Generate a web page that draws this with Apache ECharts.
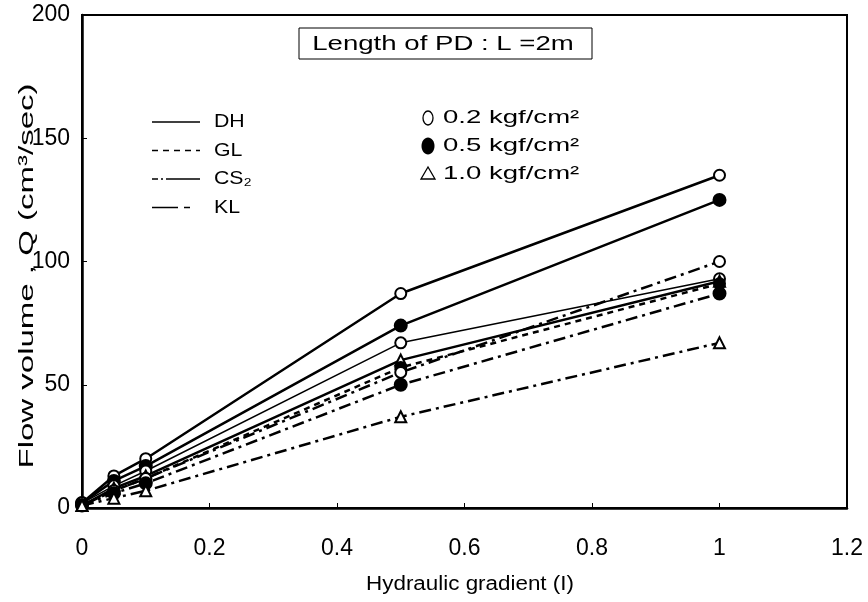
<!DOCTYPE html>
<html>
<head>
<meta charset="utf-8">
<script src="https://cdn.jsdelivr.net/npm/echarts@6/dist/echarts.min.js"></script>
<style>html,body{margin:0;padding:0;background:#fff}#c{width:868px;height:602px}</style>
</head>
<body>
<div id="c"></div>
<script>
// ---- data ----
const gradient = [0, 0.05, 0.1, 0.5, 1.0];
const xTickLabels = {0: '0', 0.2: '0.2', 0.4: '0.4', 0.6: '0.6', 0.8: '0.8', 1: '1', 1.2: '1.2'};
const yTicks = [0, 50, 100, 150, 200];

const DH_02 = [2, 13, 20, 87, 135];
const DH_05 = [2, 11, 17, 74, 125];
const CS2_02 = [2, 9, 15, 67, 93];
const DH_10 = [1, 8, 13, 60, 92];
const GL_05 = [1, 7, 12, 57, 91];
const KL_02 = [1, 7, 12, 55, 100];
const KL_05 = [1, 6, 10, 50, 87];
const KL_10 = [1, 4, 7, 37, 67];

const materialNames = ['DH', 'GL', 'CS\u2082', 'KL'];
const pressureNames = ['0.2 kgf/cm\u00b2', '0.5 kgf/cm\u00b2', '1.0 kgf/cm\u00b2'];
const titleText = 'Length of PD : L =2m';
const xAxisName = 'Hydraulic gradient (I)';
const yAxisName = 'Flow volume , Q (cm\u00b3/sec)';

// ---- styles ----
const SOLID = 'solid';
const DASH = [6, 5];
const DASHDOT = [12, 5, 3, 5];
const CSDASH = [6, 3, 2, 3, 30, 0];
const KLDASH = [26, 6, 6, 10];

function pairs(vals) { return gradient.map((g, i) => [g, vals[i]]); }
function mk(name, vals, lineType, width, symbol, size) {
  return {
    name: name, type: 'line', data: pairs(vals),
    lineStyle: { color: '#000', width: width, type: lineType },
    itemStyle: { color: '#000', borderColor: '#000', borderWidth: 2 },
    symbol: symbol, symbolSize: size, showSymbol: true, z: 3,
    emphasis: { disabled: true }, animation: false
  };
}

const series = [
  mk('DH 0.2', DH_02, SOLID, 2.5, 'emptyCircle', 11),
  mk('DH 0.5', DH_05, SOLID, 2.5, 'circle', 12),
  mk('CS2 0.2', CS2_02, SOLID, 1.5, 'emptyCircle', 11),
  mk('DH 1.0', DH_10, SOLID, 2.5, 'emptyTriangle', 11),
  mk('GL 0.5', GL_05, DASH, 2.5, 'circle', 11),
  mk('KL 0.2', KL_02, DASHDOT, 2.5, 'emptyCircle', 11),
  mk('KL 0.5', KL_05, DASHDOT, 2.5, 'circle', 12),
  mk('KL 1.0', KL_10, DASHDOT, 2.5, 'emptyTriangle', 11)
];

const FONT = '"Liberation Sans", Arial, sans-serif';
const chart = echarts.init(document.getElementById('c'), null, { renderer: 'canvas' });

// legend / annotation graphics
const legendLineTypes = [SOLID, DASH, CSDASH, KLDASH];
const graphics = [];
materialNames.forEach((n, i) => {
  const y = 122 + i * 28.5;
  graphics.push({ type: 'line', shape: { x1: 152, y1: y, x2: 200, y2: y },
    style: { stroke: '#000', lineWidth: 1.5, lineDash: legendLineTypes[i] === SOLID ? null : legendLineTypes[i] } });
  graphics.push({ type: 'text', x: 214, y: y, scaleX: 1.12,
    style: { text: n, font: '19px ' + FONT, fill: '#000', textVerticalAlign: 'middle' } });
});
const pSyms = ['open', 'filled', 'tri'];
pressureNames.forEach((n, i) => {
  const y = 118 + i * 28;
  if (pSyms[i] === 'open') graphics.push({ type: 'ellipse', shape: { cx: 428, cy: y, rx: 5, ry: 7 }, style: { fill: 'none', stroke: '#000', lineWidth: 1.3 } });
  else if (pSyms[i] === 'filled') graphics.push({ type: 'ellipse', shape: { cx: 428, cy: y, rx: 6.5, ry: 8.5 }, style: { fill: '#000' } });
  else graphics.push({ type: 'polygon', shape: { points: [[428, y - 7], [421, y + 5], [435, y + 5]] }, style: { fill: 'none', stroke: '#000', lineWidth: 1.3 } });
  graphics.push({ type: 'text', x: 443, y: y, scaleX: 1.45,
    style: { text: n, font: '19px ' + FONT, fill: '#000', textVerticalAlign: 'middle' } });
});
graphics.push({ type: 'rect', shape: { x: 299, y: 28, width: 293, height: 31 }, style: { fill: '#fff', stroke: '#000', lineWidth: 1 } });
graphics.push({ type: 'text', x: 443, y: 44, scaleX: 1.38,
  style: { text: titleText, font: '20px ' + FONT, fill: '#000', textAlign: 'center', textVerticalAlign: 'middle' } });
graphics.push({ type: 'text', x: 470, y: 584, scaleX: 1.12,
  style: { text: xAxisName, font: '20px ' + FONT, fill: '#000', textAlign: 'center', textVerticalAlign: 'middle' } });
graphics.push({ type: 'text', x: 27, y: 276, rotation: Math.PI / 2, scaleX: 1.65,
  style: { text: yAxisName, font: '20px ' + FONT, fill: '#000', textAlign: 'center', textVerticalAlign: 'middle' } });

chart.setOption({
  backgroundColor: '#fff',
  animation: false,
  grid: { left: 82, right: 21, top: 15, bottom: 94, show: true, borderColor: '#000', borderWidth: 2 },
  xAxis: {
    type: 'value', min: 0, max: 1.2, interval: 0.2,
    axisLine: { lineStyle: { color: '#000', width: 2.5 } },
    axisTick: { inside: true, length: 5, lineStyle: { color: '#000' } },
    axisLabel: { fontSize: 23, fontFamily: FONT, color: '#000', margin: 29,
      formatter: v => xTickLabels[Math.round(v * 10) / 10] ?? '' },
    splitLine: { show: false }
  },
  yAxis: {
    type: 'value', min: 0, max: 200, interval: 50,
    axisLine: { lineStyle: { color: '#000', width: 2.5 } },
    axisTick: { inside: true, length: 5, lineStyle: { color: '#000' } },
    axisLabel: { fontSize: 23, fontFamily: FONT, color: '#000', margin: 12 },
    splitLine: { show: false }
  },
  graphic: graphics,
  series: series
});
</script>
</body>
</html>
